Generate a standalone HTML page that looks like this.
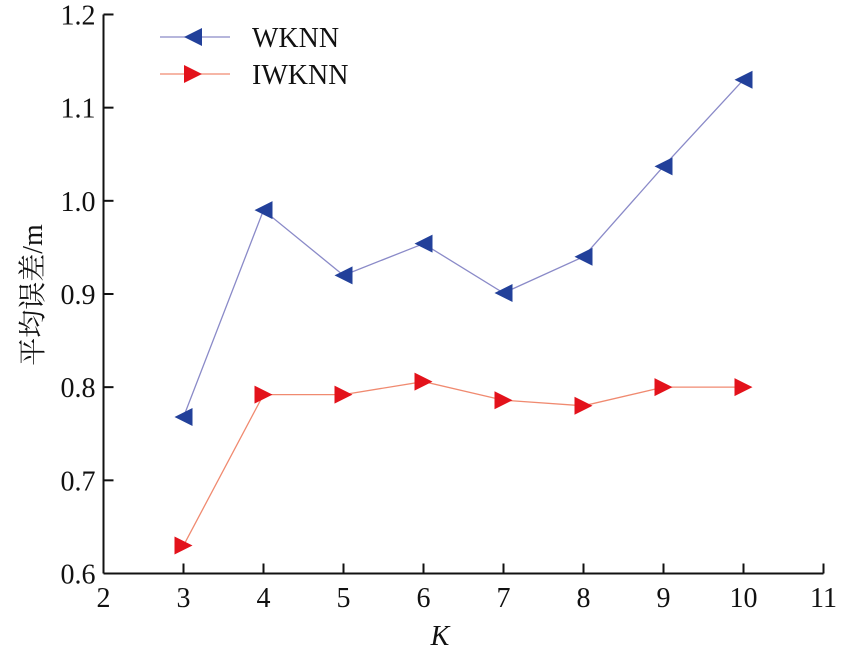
<!DOCTYPE html>
<html><head><meta charset="utf-8"><style>
body{margin:0;background:#fff}
svg text{font-family:"Liberation Serif","Noto Serif CJK SC",serif;fill:#111}
</style></head><body>
<svg id="chart" width="850" height="660" viewBox="0 0 850 660">
<g id="axes"></g><g id="series"></g><g id="legend"></g>
<text x="440" y="645" font-size="28" font-style="italic" text-anchor="middle">K</text>
<text transform="translate(42,295) rotate(-90)" font-size="28" text-anchor="middle">平均误差/m</text>
</svg>
<script>
const categories=[3,4,5,6,7,8,9,10];
const wknn=[0.768,0.99,0.92,0.954,0.901,0.94,1.037,1.13];
const iwknn=[0.63,0.792,0.792,0.806,0.786,0.78,0.80,0.80];
const xTicks=[2,3,4,5,6,7,8,9,10,11];
const yTicks=[0.6,0.7,0.8,0.9,1.0,1.1,1.2];
const yLabels=["0.6","0.7","0.8","0.9","1.0","1.1","1.2"];
const NS="http://www.w3.org/2000/svg";
const X0=103.5,Y0=573.5;
const sx=v=>X0+(v-2)*80;
const sy=v=>Y0-(v-0.6)*931.7;
function mk(t,a,p){const e=document.createElementNS(NS,t);for(const k in a)e.setAttribute(k,a[k]);p.appendChild(e);return e;}
const ax=document.getElementById('axes');
const yl=mk('line',{x1:X0,y1:sy(1.2),x2:X0,y2:Y0,stroke:'#111','stroke-width':2},ax);


const xl=mk('line',{x1:X0,y1:Y0,x2:sx(11),y2:Y0,stroke:'#111','stroke-width':2},ax);


xTicks.forEach(v=>{
 if(v>2)mk('line',{x1:sx(v),y1:Y0,x2:sx(v),y2:Y0-10,stroke:'#111','stroke-width':2},ax);
 const t=mk('text',{x:sx(v),y:607,'font-size':28,'text-anchor':'middle'},ax);t.textContent=v;
 
 
});
yTicks.forEach((v,i)=>{
 if(i>0)mk('line',{x1:X0,y1:sy(v),x2:X0+10,y2:sy(v),stroke:'#111','stroke-width':2},ax);
 const t=mk('text',{x:X0-8,y:sy(v)+10,'font-size':28,'text-anchor':'end'},ax);t.textContent=yLabels[i];
 
 
});
function tri(x,y,dir,color,p){
 const s=9;let pts;
 if(dir<0)pts=[[x-s,y],[x+s,y-s],[x+s,y+s]];else pts=[[x+s,y],[x-s,y-s],[x-s,y+s]];
 return mk('polygon',{points:pts.map(q=>q.join(',')).join(' '),fill:color},p);
}
const sg=document.getElementById('series');
function series(vals,color,fill,dir,name){
 const g=mk('g',{},sg);
 
 
 mk('polyline',{points:categories.map((c,i)=>sx(c)+','+sy(vals[i])).join(' '),fill:'none',stroke:color,'stroke-width':1.3},g);
 categories.forEach((c,i)=>{const m=tri(sx(c),sy(vals[i]),dir,fill,g);
  
  });
}
series(wknn,'#8a8ac8','#22409a',-1,'wknn-series');
series(iwknn,'#f08a70','#e3121b',1,'iwknn-series');
const lg=document.getElementById('legend');
[['WKNN','#8a8ac8','#22409a',-1,37],['IWKNN','#f08a70','#e3121b',1,74]].forEach(d=>{
 const g=mk('g',{},lg);
 
 
 mk('line',{x1:160,y1:d[4],x2:230,y2:d[4],stroke:d[1],'stroke-width':1.3},g);
 tri(193,d[4],d[3],d[2],g);
 const t=mk('text',{x:252,y:d[4]+10,'font-size':28},g);t.textContent=d[0];
});
</script>
</body></html>
